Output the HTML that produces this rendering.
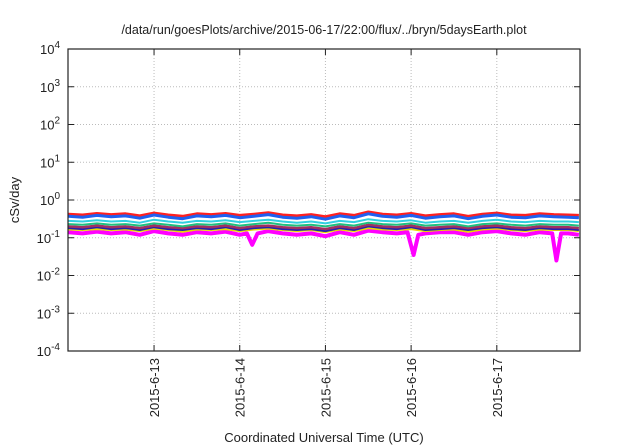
<!DOCTYPE html>
<html><head><meta charset="utf-8"><style>
body{margin:0;background:#fff}
svg{display:block;font-family:"Liberation Sans",sans-serif}
</style></head><body>
<svg id="chart" width="640" height="448"></svg>
<script>
const hours=[0,4,8,12,16,20,24,28,32,36,40,44,48,52,56,60,64,68,72,76,80,84,88,92,96,100,104,108,112,116,120,124,128,132,136,140,143];
const red=[0.42,0.40,0.44,0.41,0.43,0.38,0.45,0.40,0.37,0.43,0.41,0.44,0.39,0.42,0.46,0.40,0.38,0.41,0.36,0.43,0.39,0.48,0.42,0.40,0.44,0.38,0.41,0.43,0.37,0.42,0.45,0.40,0.39,0.43,0.41,0.40,0.39];
const blue=[0.37,0.35,0.39,0.36,0.38,0.33,0.40,0.35,0.32,0.38,0.36,0.39,0.34,0.37,0.41,0.35,0.33,0.36,0.31,0.38,0.34,0.43,0.37,0.35,0.39,0.33,0.36,0.38,0.32,0.37,0.40,0.35,0.34,0.38,0.36,0.35,0.34];
const cyan=[0.28,0.27,0.29,0.27,0.28,0.25,0.30,0.27,0.25,0.28,0.27,0.29,0.26,0.28,0.30,0.27,0.25,0.27,0.24,0.28,0.26,0.31,0.28,0.27,0.29,0.25,0.27,0.28,0.25,0.28,0.30,0.27,0.26,0.28,0.27,0.27,0.26];
const green=[0.23,0.22,0.24,0.22,0.23,0.21,0.24,0.22,0.20,0.23,0.22,0.24,0.21,0.23,0.25,0.22,0.21,0.22,0.20,0.23,0.21,0.25,0.23,0.22,0.24,0.21,0.22,0.23,0.20,0.23,0.24,0.22,0.21,0.23,0.22,0.22,0.21];
const maroon=[0.20,0.19,0.21,0.19,0.20,0.18,0.21,0.19,0.18,0.20,0.19,0.21,0.18,0.20,0.21,0.19,0.18,0.19,0.17,0.20,0.18,0.22,0.20,0.19,0.21,0.18,0.19,0.20,0.18,0.20,0.21,0.19,0.18,0.20,0.19,0.19,0.18];
const navy=[0.18,0.17,0.19,0.17,0.18,0.16,0.19,0.17,0.16,0.18,0.17,0.19,0.16,0.18,0.19,0.17,0.16,0.17,0.15,0.18,0.16,0.20,0.18,0.17,0.19,0.16,0.17,0.18,0.16,0.18,0.19,0.17,0.16,0.18,0.17,0.17,0.16];
const yellow=[0.165,0.16,0.17,0.16,0.165,0.15,0.175,0.16,0.145,0.165,0.16,0.17,0.15,0.165,0.175,0.16,0.15,0.16,0.14,0.165,0.15,0.18,0.165,0.16,0.17,0.15,0.16,0.165,0.145,0.165,0.175,0.16,0.15,0.165,0.16,0.16,0.15];
const magentaHours=[0,4,8,12,16,20,24,28,32,36,40,44,48,50,51.5,53,56,60,64,68,72,76,80,84,88,92,95,96.7,98,100,104,108,112,116,120,124,128,132,135.5,136.7,138,140,143];
const magenta=[0.14,0.13,0.145,0.13,0.14,0.12,0.15,0.13,0.12,0.14,0.13,0.145,0.12,0.13,0.065,0.13,0.15,0.13,0.12,0.13,0.11,0.14,0.12,0.155,0.14,0.13,0.14,0.035,0.12,0.13,0.14,0.14,0.12,0.14,0.15,0.13,0.12,0.14,0.13,0.025,0.13,0.13,0.12];
const yTicks=[4,3,2,1,0,-1,-2,-3,-4];
const xTickDays=["2015-6-13","2015-6-14","2015-6-15","2015-6-16","2015-6-17"];
const xTickHours=[24,48,72,96,120];

const L=68,R=580,T=49,B=351,H0=-0.1,H1=143.3;
const sx=h=>L+(h-H0)/(H1-H0)*(R-L);
const sy=v=>T+(4-Math.log10(v))*(B-T)/8;
const NS="http://www.w3.org/2000/svg";
const svg=document.getElementById('chart');
function mk(tag,attrs,txt){const e=document.createElementNS(NS,tag);for(const k in attrs)e.setAttribute(k,attrs[k]);if(txt!==undefined)e.textContent=txt;svg.appendChild(e);return e;}

let t=mk('text',{x:324,y:34,'text-anchor':'middle','font-size':12.5,fill:'#222'},'/data/run/goesPlots/archive/2015-06-17/22:00/flux/../bryn/5daysEarth.plot');



yTicks.forEach(p=>{
  const y=sy(Math.pow(10,p));
  if(p<4&&p>-4){const g=mk('line',{x1:L,x2:R,y1:y,y2:y,stroke:'#bbb','stroke-dasharray':'1,2','stroke-width':1});
  
  }
  mk('line',{x1:L,x2:L+6,y1:y,y2:y,stroke:'#222'});
  mk('line',{x1:R-6,x2:R,y1:y,y2:y,stroke:'#222'});
  const lb=mk('text',{x:L-8,y:y+5,'text-anchor':'end','font-size':13,fill:'#222'});
  
  
  const a=document.createElementNS(NS,'tspan');a.textContent='10';lb.appendChild(a);
  const b=document.createElementNS(NS,'tspan');b.textContent=String(p);b.setAttribute('dy','-6');b.setAttribute('font-size','10');lb.appendChild(b);
});
xTickHours.forEach((h,i)=>{
  const x=sx(h);
  const g=mk('line',{x1:x,x2:x,y1:T,y2:B,stroke:'#bbb','stroke-dasharray':'1,2'});
  
  
  mk('line',{x1:x,x2:x,y1:B-6,y2:B,stroke:'#222'});
  mk('line',{x1:x,x2:x,y1:T,y2:T+6,stroke:'#222'});
  const lb=mk('text',{x:0,y:0,'text-anchor':'end','font-size':13,fill:'#222',transform:`translate(${x+5},358) rotate(-90)`},xTickDays[i]);
  
  
});
const series=[[magenta,magentaHours,'#ff00ff',4],[yellow,hours,'#e8d800',2],[navy,hours,'#2020b0',2],[maroon,hours,'#a03060',2.5],[green,hours,'#20c080',2],[cyan,hours,'#30d0e0',2],[red,hours,'#ff2020',3],[blue,hours,'#2060f0',3]];
const names=['series-magenta','series-yellow','series-navy','series-maroon','series-green','series-cyan','series-red','series-blue'];
series.forEach(([vals,hs,c,w],k)=>{
  const d=vals.map((v,i)=>(i?'L':'M')+sx(hs[i]).toFixed(1)+','+sy(v).toFixed(1)).join('');
  const p=mk('path',{d,fill:'none',stroke:c,'stroke-width':w,'stroke-linejoin':'round'});
  
  
});
const fr=mk('rect',{x:L,y:T,width:R-L,height:B-T,fill:'none',stroke:'#222','stroke-width':1.2});


const yl=mk('text',{x:0,y:0,'text-anchor':'middle','font-size':13,fill:'#222',transform:'translate(19,200) rotate(-90)'},'cSv/day');


const xl=mk('text',{x:324,y:442,'text-anchor':'middle','font-size':13,fill:'#222'},'Coordinated Universal Time (UTC)');


</script>
</body></html>
